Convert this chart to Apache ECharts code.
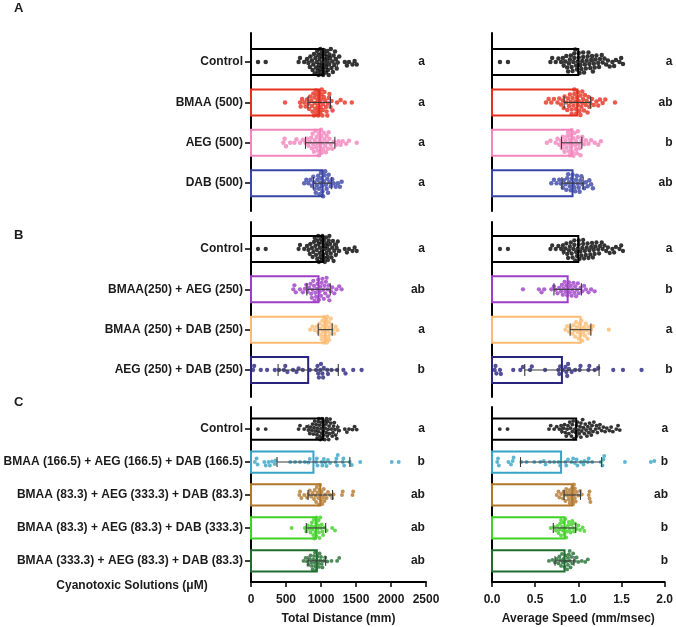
<!DOCTYPE html>
<html><head><meta charset="utf-8">
<script src="https://cdn.jsdelivr.net/npm/echarts@6/dist/echarts.min.js"></script>
<style>html,body{margin:0;padding:0;background:#fff}#c{width:676px;height:627px}</style>
</head><body><div id="c"></div>
<script>
// ---------- categories ----------
const catsA = ['Control','BMAA (500)','AEG (500)','DAB (500)'];
const catsB = ['Control','BMAA(250) + AEG (250)','BMAA (250) + DAB (250)','AEG (250) + DAB (250)'];
const catsC = ['Control','BMAA (166.5) + AEG (166.5) + DAB (166.5)','BMAA (83.3) + AEG (333.3) + DAB (83.3)','BMAA (83.3) + AEG (83.3) + DAB (333.3)','BMAA (333.3) + AEG (83.3) + DAB (83.3)'];

// ---------- tick labels ----------
const distTicks = [0, 500, 1000, 1500, 2000, 2500];
const speedTicks = [0, 0.5, 1.0, 1.5, 2.0];

// ---------- means and SD ----------
const meanDistA = [1030, 975, 988, 1022];      const sdDistA = [205, 160, 210, 130];
const meanSpeedA = [0.975, 0.965, 0.90, 0.91]; const sdSpeedA = [0.17, 0.15, 0.115, 0.12];
const meanDistB = [1030, 965, 1060, 817];      const sdDistB = [205, 167, 100, 430];
const meanSpeedB = [0.975, 0.855, 1.0, 0.79];  const sdSpeedB = [0.17, 0.155, 0.117, 0.42];
const meanDistC = [1030, 892, 990, 928, 940];  const sdDistC = [205, 520, 175, 138, 126];
const meanSpeedC = [0.975, 0.80, 0.93, 0.84, 0.84]; const sdSpeedC = [0.17, 0.47, 0.095, 0.13, 0.11];

// ---------- significance letters ----------
const lettersDistA = ['a','a','a','a'];        const lettersSpeedA = ['a','ab','b','ab'];
const lettersDistB = ['a','ab','a','b'];       const lettersSpeedB = ['a','b','a','b'];
const lettersDistC = ['a','b','ab','ab','ab']; const lettersSpeedC = ['a','b','ab','b','b'];

// ---------- individual points ----------
const ctrlDist = [100,210,680,700,760,800,820,840,850,870,880,890,900,910,920,930,940,945,950,960,965,970,980,985,990,1000,1005,1010,1015,1020,1030,1035,1040,1050,1055,1060,1070,1075,1080,1090,1095,1100,1110,1115,1120,1130,1140,1150,1160,1170,1180,1190,1200,1210,1225,1240,1260,1340,1370,1400,1450,1480,1510];
const ctrlSpeed = [0.09,0.18,0.66,0.68,0.72,0.75,0.78,0.80,0.81,0.83,0.84,0.85,0.86,0.87,0.88,0.89,0.90,0.91,0.92,0.93,0.93,0.94,0.95,0.96,0.97,0.98,0.98,0.99,1.00,1.01,1.02,1.03,1.03,1.04,1.05,1.06,1.07,1.08,1.09,1.10,1.11,1.12,1.13,1.14,1.15,1.16,1.17,1.18,1.20,1.21,1.22,1.24,1.25,1.27,1.29,1.31,1.33,1.36,1.38,1.40,1.44,1.46,1.48];
const bmaa500Dist = [486,700,710,730,760,780,800,820,830,845,860,870,880,890,900,905,910,920,930,935,940,950,955,960,965,970,975,980,990,995,1000,1005,1010,1020,1025,1030,1040,1050,1060,1070,1080,1090,1100,1110,1120,1135,1150,1165,1230,1280,1340,1440];
const bmaa500Speed = [0.61,0.64,0.67,0.70,0.74,0.76,0.78,0.80,0.81,0.82,0.84,0.85,0.86,0.87,0.88,0.89,0.90,0.90,0.91,0.92,0.93,0.93,0.94,0.95,0.95,0.96,0.97,0.97,0.98,0.99,1.00,1.00,1.01,1.02,1.02,1.03,1.04,1.05,1.06,1.07,1.08,1.09,1.10,1.11,1.13,1.15,1.18,1.20,1.22,1.25,1.28,1.39];
const aeg500Dist = [462,480,500,560,620,650,700,740,780,800,820,840,860,870,880,890,900,910,920,930,940,950,960,965,970,980,990,1000,1005,1010,1020,1030,1040,1050,1060,1070,1080,1090,1100,1110,1120,1140,1160,1180,1220,1250,1280,1310,1360,1400,1510];
const aeg500Speed = [0.62,0.66,0.72,0.74,0.76,0.78,0.79,0.80,0.81,0.82,0.83,0.84,0.85,0.86,0.86,0.87,0.88,0.88,0.89,0.89,0.90,0.90,0.91,0.92,0.92,0.93,0.94,0.95,0.95,0.96,0.97,0.97,0.98,0.99,1.00,1.01,1.02,1.04,1.06,1.09,1.12,1.16,1.20,1.23];
const dab500Dist = [760,790,820,850,870,890,900,910,925,940,950,960,970,980,990,1000,1005,1010,1020,1030,1040,1050,1060,1070,1080,1090,1100,1110,1120,1140,1160,1180,1210,1240,1270,1295];
const dab500Speed = [0.67,0.70,0.73,0.76,0.78,0.80,0.81,0.83,0.84,0.85,0.86,0.87,0.88,0.89,0.90,0.91,0.92,0.93,0.94,0.95,0.96,0.97,0.98,0.99,1.00,1.01,1.02,1.04,1.06,1.08,1.10,1.12,1.14];
const bmaaAegDist = [605,620,640,700,740,770,790,810,830,850,860,870,880,890,900,910,920,930,940,950,960,970,980,990,1000,1010,1020,1030,1040,1050,1060,1070,1080,1090,1100,1110,1120,1140,1160,1190,1220,1260,1295];
const bmaaAegSpeed = [0.35,0.53,0.56,0.59,0.67,0.70,0.72,0.74,0.76,0.78,0.79,0.80,0.81,0.82,0.83,0.84,0.85,0.86,0.87,0.88,0.89,0.90,0.91,0.92,0.93,0.94,0.95,0.96,0.97,0.98,1.00,1.02,1.04,1.06,1.09,1.12,1.16];
const bmaaDabDist = [845,880,910,940,960,980,990,1000,1010,1020,1025,1030,1040,1045,1050,1055,1060,1065,1070,1075,1080,1085,1090,1100,1105,1110,1115,1120,1130,1140,1150,1170,1190,1210,1235];
const bmaaDabSpeed = [0.83,0.85,0.87,0.89,0.91,0.92,0.93,0.94,0.95,0.96,0.97,0.98,0.99,1.00,1.00,1.01,1.02,1.03,1.04,1.05,1.06,1.07,1.08,1.09,1.10,1.12,1.14,1.32];
const aegDabDist = [30,45,140,230,340,400,470,490,520,600,650,680,740,840,930,950,960,970,990,1000,1020,1030,1040,1090,1100,1150,1230,1320,1350,1460,1580];
const aegDabSpeed = [0.03,0.04,0.05,0.09,0.10,0.24,0.32,0.35,0.43,0.45,0.60,0.75,0.76,0.77,0.80,0.83,0.84,0.85,0.86,0.87,0.90,0.94,0.99,1.00,1.09,1.10,1.16,1.20,1.37,1.48,1.69];
const mix166Dist = [55,80,95,190,210,250,270,300,340,350,560,630,700,770,820,840,930,940,950,1010,1020,1040,1060,1080,1100,1130,1210,1220,1230,1240,1310,1320,1330,1410,1440,1560,2010,2110];
const mix166Speed = [0.06,0.07,0.08,0.19,0.22,0.24,0.25,0.34,0.40,0.49,0.56,0.60,0.62,0.67,0.72,0.77,0.79,0.85,0.86,0.88,0.92,0.94,0.96,0.98,0.99,1.03,1.06,1.07,1.11,1.12,1.16,1.26,1.28,1.29,1.30,1.54,1.84,1.88];
const mixAegDist = [690,700,720,760,800,820,840,860,880,900,910,920,930,940,950,960,970,980,985,990,1000,1010,1020,1030,1040,1050,1060,1080,1100,1130,1160,1180,1300,1310,1450,1460];
const mixAegSpeed = [0.75,0.77,0.78,0.80,0.82,0.83,0.84,0.85,0.86,0.87,0.88,0.89,0.90,0.90,0.91,0.92,0.93,0.93,0.94,0.94,0.95,0.95,0.96,0.96,0.97,0.98,1.00,1.02,1.04,1.12,1.13,1.13,1.14];
const mixDabDist = [580,770,790,810,830,850,860,870,880,890,900,905,910,920,930,935,940,950,960,965,970,980,990,1000,1010,1020,1030,1050,1080,1160,1200];
const mixDabSpeed = [0.68,0.72,0.74,0.76,0.77,0.78,0.79,0.80,0.80,0.81,0.82,0.83,0.84,0.85,0.85,0.86,0.87,0.88,0.89,0.90,0.91,0.92,0.93,0.94,0.95,0.96,0.98,1.00,1.02,1.05,1.07];
const mixBmaaDist = [750,780,800,820,840,850,860,870,880,890,900,910,915,920,930,940,950,960,970,980,990,1000,1010,1020,1040,1060,1090,1150,1230,1260];
const mixBmaaSpeed = [0.66,0.70,0.73,0.75,0.77,0.78,0.79,0.80,0.81,0.82,0.83,0.84,0.85,0.86,0.87,0.88,0.88,0.89,0.90,0.90,0.91,0.92,0.93,0.94,0.96,0.98,1.00,1.04,1.08,1.11];

// ---------- styles ----------
const colorsA = ['#000000','#e4301f','#f285bd','#3845a6'];
const colorsB = ['#000000','#9e3ec6','#fbbb74','#28247f'];
const colorsC = ['#000000','#36a4c6','#b2762a','#3fd125','#1f6e2f'];
const FONT = '"Liberation Sans", Arial, sans-serif';
const TXT = '#1b1b1b';

const panels = [
  {cats: catsA, colors: colorsA, top: 33, height: 178, min: -0.72, max: 3.69, dot: 4.5,
   cols: [{mean: meanDistA, sd: sdDistA, pts: [ctrlDist, bmaa500Dist, aeg500Dist, dab500Dist], let: lettersDistA},
          {mean: meanSpeedA, sd: sdSpeedA, pts: [ctrlSpeed, bmaa500Speed, aeg500Speed, dab500Speed], let: lettersSpeedA}]},
  {cats: catsB, colors: colorsB, top: 222, height: 175, min: -0.67, max: 3.67, dot: 4.3,
   cols: [{mean: meanDistB, sd: sdDistB, pts: [ctrlDist, bmaaAegDist, bmaaDabDist, aegDabDist], let: lettersDistB},
          {mean: meanSpeedB, sd: sdSpeedB, pts: [ctrlSpeed, bmaaAegSpeed, bmaaDabSpeed, aegDabSpeed], let: lettersSpeedB}]},
  {cats: catsC, colors: colorsC, top: 407, height: 175, min: -0.67, max: 4.64, dot: 3.9,
   cols: [{mean: meanDistC, sd: sdDistC, pts: [ctrlDist, mix166Dist, mixAegDist, mixDabDist, mixBmaaDist], let: lettersDistC},
          {mean: meanSpeedC, sd: sdSpeedC, pts: [ctrlSpeed, mix166Speed, mixAegSpeed, mixDabSpeed, mixBmaaSpeed], let: lettersSpeedC}]}
];
const colDefs = [
  {left: 251, width: 175, ticks: distTicks, name: 'Total Distance (mm)', fmt: v => String(v), letterX: 2485},
  {left: 492, width: 177, ticks: speedTicks, name: 'Average Speed (mm/msec)', fmt: v => v.toFixed(1), letterX: 2.04}
];
const BAR_FRAC = 0.645, CAP = 0.15;

const chart = echarts.init(document.getElementById('c'), null, {renderer: 'canvas'});
const grid = [], xAxis = [], yAxis = [], series = [];

panels.forEach((P, p) => {
  P.cols.forEach((C, c) => {
    const g = p * 2 + c, D = colDefs[c];
    const idx = P.cats.map((_, i) => i);
    const bottomPanel = p === panels.length - 1;
    grid.push({left: D.left, width: D.width, top: P.top, height: P.height});
    xAxis.push({
      type: 'value', gridIndex: g, min: D.ticks[0], max: D.ticks[D.ticks.length - 1],
      interval: D.ticks[1] - D.ticks[0], show: bottomPanel,
      axisLine: {show: true, onZero: false, lineStyle: {color: '#000', width: 2}},
      axisTick: {show: true, length: 5, lineStyle: {color: '#000', width: 1.5}},
      axisLabel: {fontFamily: FONT, fontWeight: 'bold', fontSize: 12, color: TXT, margin: 12, formatter: D.fmt},
      splitLine: {show: false},
      name: D.name, nameLocation: 'middle', nameGap: 31,
      nameTextStyle: {fontFamily: FONT, fontWeight: 'bold', fontSize: 12, color: TXT}
    });
    yAxis.push({
      type: 'value', gridIndex: g, inverse: true, min: P.min, max: P.max,
      axisLine: {show: true, onZero: false, lineStyle: {color: '#000', width: 2}},
      axisTick: {show: c === 0, customValues: idx, length: 6, lineStyle: {color: '#000', width: 1.5}},
      axisLabel: {show: c === 0, customValues: idx, margin: 8, fontFamily: FONT, fontWeight: 'bold',
                  fontSize: 12, color: TXT, formatter: v => P.cats[Math.round(v)]},
      splitLine: {show: false}
    });
    // bars
    series.push({
      type: 'custom', xAxisIndex: g, yAxisIndex: g, z: 1, silent: true,
      encode: {x: 0, y: 1},
      data: C.mean.map((m, i) => [m, i]),
      renderItem: (params, api) => {
        const v = api.value(0), i = api.value(1);
        const p0 = api.coord([0, i]), p1 = api.coord([v, i]);
        const h = Math.abs(api.size([0, BAR_FRAC])[1]);
        return {type: 'rect', shape: {x: p0[0], y: p0[1] - h / 2, width: p1[0] - p0[0], height: h},
                style: {fill: '#fff', stroke: P.colors[i], lineWidth: 2}};
      }
    });
    // dots (filled later)
    series.push({type: 'scatter', id: 'dots' + g, xAxisIndex: g, yAxisIndex: g, z: 2, silent: true,
                 symbolSize: P.dot, data: [], animation: false});
    // error bars
    series.push({
      type: 'custom', xAxisIndex: g, yAxisIndex: g, z: 3, silent: true,
      encode: {x: 0, y: 2},
      data: C.mean.map((m, i) => [m, C.sd[i], i]),
      renderItem: (params, api) => {
        const m = api.value(0), s = api.value(1), i = api.value(2);
        const a = api.coord([m - s, i]), b = api.coord([m + s, i]);
        const ch = Math.abs(api.size([0, CAP])[1]);
        const st = {stroke: '#3a3a3a', lineWidth: 1.1};
        return {type: 'group', children: [
          {type: 'line', shape: {x1: a[0], y1: a[1], x2: b[0], y2: b[1]}, style: st},
          {type: 'line', shape: {x1: a[0], y1: a[1] - ch, x2: a[0], y2: a[1] + ch}, style: st},
          {type: 'line', shape: {x1: b[0], y1: b[1] - ch, x2: b[0], y2: b[1] + ch}, style: st}
        ]};
      }
    });
    // letters
    series.push({
      type: 'custom', xAxisIndex: g, yAxisIndex: g, z: 3, silent: true, clip: false,
      encode: {x: 0, y: 1},
      data: C.let.map((t, i) => [D.letterX, i]),
      renderItem: (params, api) => {
        const pt = api.coord([api.value(0), api.value(1)]);
        return {type: 'text', x: pt[0], y: pt[1],
                style: {text: C.let[params.dataIndex], font: 'bold 12px ' + FONT, fill: TXT,
                        textAlign: 'right', textVerticalAlign: 'middle', align: 'right', verticalAlign: 'middle'}};
      }
    });
  });
});

const graphic = [
  {type: 'text', x: 14, y: 8, style: {text: 'A', font: 'bold 13px ' + FONT, fill: TXT, textVerticalAlign: 'middle', verticalAlign: 'middle'}},
  {type: 'text', x: 14, y: 235, style: {text: 'B', font: 'bold 13px ' + FONT, fill: TXT, textVerticalAlign: 'middle', verticalAlign: 'middle'}},
  {type: 'text', x: 14, y: 402, style: {text: 'C', font: 'bold 13px ' + FONT, fill: TXT, textVerticalAlign: 'middle', verticalAlign: 'middle'}},
  {type: 'text', x: 132, y: 586, style: {text: 'Cyanotoxic Solutions (μM)', font: 'bold 12px ' + FONT, fill: TXT,
    textAlign: 'center', align: 'center', textVerticalAlign: 'middle', verticalAlign: 'middle'}}
];

chart.setOption({animation: false, backgroundColor: '#fff', grid, xAxis, yAxis, series, graphic});

// ---------- beeswarm layout of the points (pixel space from the library's scales) ----------
function swarm(xs, d, maxY) {
  const order = xs.map((_, k) => k).sort((a, b) => xs[a] - xs[b]);
  const placed = [], out = new Array(xs.length).fill(0), step = 0.5;
  order.forEach((k, n) => {
    const x = xs[k];
    const near = placed.filter(q => Math.abs(q[0] - x) < d);
    let best = 0, bestD = -1, found = false;
    const sgn = n % 2 ? -1 : 1;
    for (let j = 0; j * step <= maxY && !found; j++) {
      const cands = j === 0 ? [0] : [sgn * j * step, -sgn * j * step];
      for (const y of cands) {
        let md = Infinity;
        for (const q of near) { const dd = Math.hypot(q[0] - x, q[1] - y); if (dd < md) md = dd; }
        if (md >= d) { best = y; found = true; break; }
        if (md > bestD) { bestD = md; best = y; }
      }
    }
    out[k] = best; placed.push([x, best]);
  });
  return out;
}
const dotSeries = [];
panels.forEach((P, p) => {
  P.cols.forEach((C, c) => {
    const g = p * 2 + c;
    const y0 = chart.convertToPixel({gridIndex: g}, [0, 0])[1];
    const y1 = chart.convertToPixel({gridIndex: g}, [0, 1])[1];
    const unit = y1 - y0;
    const data = [];
    C.pts.forEach((vals, i) => {
      const xs = vals.map(v => chart.convertToPixel({gridIndex: g}, [v, i])[0]);
      const offs = swarm(xs, P.dot * 0.9, Math.abs(unit) * 0.33);
      vals.forEach((v, k) => data.push({value: [v, i + offs[k] / unit], itemStyle: {color: P.colors[i]}}));
    });
    dotSeries.push({id: 'dots' + g, data});
  });
});
chart.setOption({series: dotSeries});
</script></body></html>
